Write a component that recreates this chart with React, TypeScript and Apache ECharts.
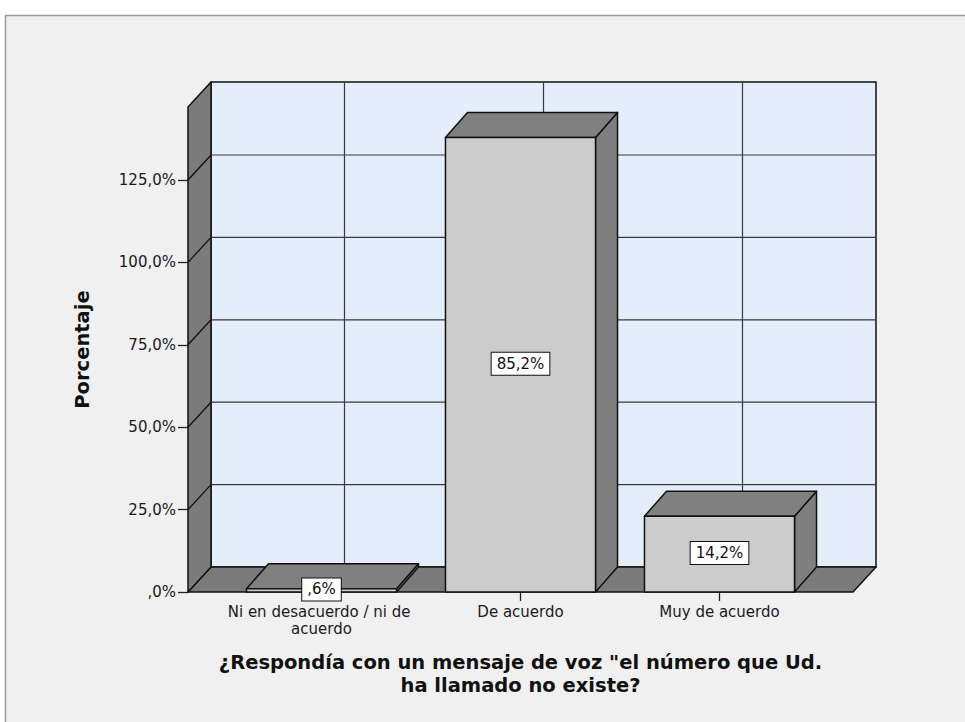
import React, { useEffect, useRef } from 'react';
import * as echarts from 'echarts';

const categories = ['Ni en desacuerdo / ni de acuerdo', 'De acuerdo', 'Muy de acuerdo'];
const percentages = [0.6, 85.2, 14.2];
const yTickValues = [0, 25, 50, 75, 100, 125];
const yAxisTitle = 'Porcentaje';
const xAxisTitle = '¿Respondía con un mensaje de voz "el número que Ud.\nha llamado no existe?';

// front-plane axis top and the (distorted) bar scale top
const FRONT_MAX = 147.15;
const BAR_MAX = 90.9;

const FONT = 'DejaVu Sans';
const SIDE = 34; // floor extension beyond the category band
const DX = 23;
const DY = -25;
const BDX = 22;
const BDY = -25;
const LINE = '#111';

function fmtPct(v: number): string {
  let s = v.toFixed(1).replace('.', ',');
  if (s.startsWith('0,')) s = s.slice(1);
  return s + '%';
}

export default function App() {
  const ref = useRef<HTMLDivElement>(null);
  useEffect(() => {
    if (!ref.current) return;
    const chart = echarts.init(ref.current, null, { renderer: 'svg' });

    const renderFrame = (params: any, api: any) => {
      const cs = params.coordSys;
      const L = cs.x - SIDE;
      const R = cs.x + cs.width + SIDE;
      const T = cs.y;
      const B = cs.y + cs.height;
      const children: any[] = [];
      children.push({
        type: 'rect',
        shape: { x: L + DX, y: T + DY, width: R - L, height: B - T },
        style: { fill: '#e3eefa', stroke: LINE, lineWidth: 1.5 },
      });
      yTickValues.forEach((t) => {
        if (t === 0) return;
        const y = api.coord([0, t])[1];
        children.push({
          type: 'line',
          shape: { x1: L + DX, y1: y + DY, x2: R + DX, y2: y + DY },
          style: { stroke: '#3a3a3a', lineWidth: 1.2 },
        });
      });
      categories.forEach((_, i) => {
        const x = api.coord([i, 0])[0];
        children.push({
          type: 'line',
          shape: { x1: x + DX, y1: T + DY, x2: x + DX, y2: B + DY },
          style: { stroke: '#3a3a3a', lineWidth: 1.2 },
        });
      });
      children.push({
        type: 'polygon',
        shape: { points: [[L, B], [L + DX, B + DY], [R + DX, B + DY], [R, B]] },
        style: { fill: '#7b7b7b', stroke: LINE, lineWidth: 1.5, lineJoin: 'round' },
      });
      children.push({
        type: 'polygon',
        shape: { points: [[L, B], [L, T], [L + DX, T + DY], [L + DX, B + DY]] },
        style: { fill: '#7b7b7b', stroke: LINE, lineWidth: 1.5, lineJoin: 'round' },
      });
      yTickValues.forEach((t) => {
        if (t === 0) return;
        const y = api.coord([0, t])[1];
        children.push({
          type: 'line',
          shape: { x1: L, y1: y, x2: L + DX, y2: y + DY },
          style: { stroke: LINE, lineWidth: 1.3 },
        });
      });
      return { type: 'group', children };
    };

    const renderBar = (params: any, api: any) => {
      const idx = api.value(0);
      const val = api.value(1);
      const base = api.coord([idx, 0]);
      const top = api.coord([idx, val]);
      const w = api.size([1, 0])[0] * 0.754;
      const x0 = base[0] - w / 2;
      const x1 = base[0] + w / 2;
      const yb = base[1];
      const yt = top[1];
      const st = { stroke: LINE, lineWidth: 1.5, lineJoin: 'round' };
      return {
        type: 'group',
        children: [
          {
            type: 'polygon',
            shape: { points: [[x1, yt], [x1 + BDX, yt + BDY], [x1 + BDX, yb + BDY], [x1, yb]] },
            style: { fill: '#7f7f7f', ...st },
          },
          {
            type: 'polygon',
            shape: { points: [[x0, yt], [x0 + BDX, yt + BDY], [x1 + BDX, yt + BDY], [x1, yt]] },
            style: { fill: '#808080', ...st },
          },
          {
            type: 'rect',
            shape: { x: x0, y: yt, width: w, height: yb - yt },
            style: { fill: '#cccccc', ...st },
          },
          {
            type: 'text',
            x: base[0],
            y: (yb + yt) / 2 - 1,
            style: {
              text: fmtPct(val),
              align: 'center',
              verticalAlign: 'middle',
              fontFamily: FONT,
              fontSize: 15,
              fill: '#111',
              backgroundColor: '#ffffff',
              borderColor: '#111',
              borderWidth: 1,
              padding: [4, 5, 3, 5],
            },
          },
        ],
      };
    };

    chart.setOption({
      animation: false,
      backgroundColor: '#ffffff',
      graphic: [
        {
          type: 'rect',
          z: -10,
          shape: { x: 5.5, y: 15.5, width: 1000, height: 800 },
          style: { fill: '#f0f0f0', stroke: '#9a9a9a', lineWidth: 1.5 },
        },
      ],
      grid: { left: 222, width: 597, top: 107, height: 485 },
      xAxis: {
        type: 'category',
        data: categories,
        boundaryGap: true,
        axisLine: { show: false },
        axisTick: { show: true, alignWithLabel: true, interval: 0, length: 9, lineStyle: { color: '#222', width: 1.3 } },
        axisLabel: {
          interval: 0,
          fontFamily: FONT,
          fontSize: 15,
          color: '#1a1a1a',
          lineHeight: 17,
          margin: 11,
          width: 196,
          overflow: 'break',
        },
        name: xAxisTitle,
        nameLocation: 'middle',
        nameGap: 59,
        nameTextStyle: {
          fontFamily: FONT,
          fontSize: 19.5,
          fontWeight: 'bold',
          color: '#111',
          lineHeight: 23,
          align: 'center',
        },
      },
      yAxis: [
        {
          type: 'value',
          min: 0,
          max: FRONT_MAX,
          interval: 25,
          offset: SIDE,
          axisLine: { show: false },
          splitLine: { show: false },
          axisTick: { show: true, length: 10, customValues: yTickValues, lineStyle: { color: '#222', width: 1.3 } },
          axisLabel: {
            customValues: yTickValues,
            formatter: (v: number) => fmtPct(v),
            fontFamily: FONT,
            fontSize: 15,
            color: '#1a1a1a',
            margin: 12,
          },
          name: yAxisTitle,
          nameLocation: 'middle',
          nameGap: 96,
          nameRotate: 90,
          nameTextStyle: { fontFamily: FONT, fontSize: 19.5, fontWeight: 'bold', color: '#111' },
        },
        {
          type: 'value',
          min: 0,
          max: BAR_MAX,
          show: false,
          splitLine: { show: false },
        },
      ],
      series: [
        {
          type: 'custom',
          xAxisIndex: 0,
          yAxisIndex: 0,
          z: 1,
          clip: false,
          silent: true,
          data: [[0, 0]],
          renderItem: renderFrame,
        },
        {
          type: 'custom',
          xAxisIndex: 0,
          yAxisIndex: 1,
          z: 3,
          clip: false,
          data: percentages.map((v, i) => [i, v]),
          renderItem: renderBar,
        },
      ],
    });
    return () => chart.dispose();
  }, []);
  return (
    <div
      ref={ref}
      style={{ position: 'absolute', left: 0, top: 0, width: 965, height: 722 }}
    />
  );
}
